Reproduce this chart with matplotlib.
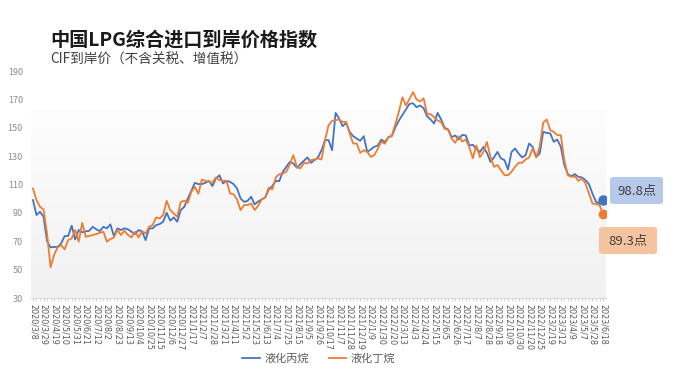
import numpy as np
import matplotlib
matplotlib.use("Agg")
import matplotlib.pyplot as plt
from matplotlib.patches import FancyBboxPatch
from matplotlib.colors import LinearSegmentedColormap

plt.rcParams['font.family'] = ['Noto Sans CJK SC', 'DejaVu Sans']

title = "中国LPG综合进口到岸价格指数"
subtitle = "CIF到岸价（不含关税、增值税）"
series_names = ["液化丙烷", "液化丁烷"]

tick_labels = [
    "2020/3/8", "2020/3/29", "2020/4/19", "2020/5/10", "2020/5/31", "2020/6/21",
    "2020/7/12", "2020/8/2", "2020/8/23", "2020/9/13", "2020/10/4", "2020/10/25",
    "2020/11/15", "2020/12/6", "2020/12/27", "2021/1/17", "2021/2/7", "2021/2/28",
    "2021/3/21", "2021/4/11", "2021/5/2", "2021/5/23", "2021/6/13", "2021/7/4",
    "2021/7/25", "2021/8/15", "2021/9/5", "2021/9/26", "2021/10/17", "2021/11/7",
    "2021/11/28", "2021/12/19", "2022/1/9", "2022/1/30", "2022/2/20", "2022/3/13",
    "2022/4/3", "2022/4/24", "2022/5/15", "2022/6/5", "2022/6/26", "2022/7/17",
    "2022/8/7", "2022/8/28", "2022/9/18", "2022/10/9", "2022/10/30", "2022/11/20",
    "2022/12/25", "2023/2/19", "2023/3/12", "2023/4/9", "2023/5/7", "2023/5/28",
    "2023/6/18",
]

propane = [
    99, 88.5, 90.8, 87.3, 70, 65.7, 66, 66, 68.5, 73.7,
    73.7, 80.9, 71.3, 78, 76.3, 77, 77.4, 80.2, 78.4, 77.2,
    80.2, 79.1, 81.9, 73.7, 79.1, 77.9, 79.1, 78.4, 76.7, 75,
    77.9, 77, 70.8, 79.1, 79.1, 81.4, 82.1, 83.8, 90.1, 84.5,
    86.8, 83.8, 92, 94.3, 100.2, 105.5, 111.2, 110.3, 110.3, 111.2,
    112.6, 108.9, 114.3, 116.5, 110.8, 112.6, 111.9, 110.3, 107.2, 100.2,
    97.8, 98.5, 101.4, 96, 98, 99.5, 100.9, 106.5, 108.9, 112.6,
    112.4, 119, 122.5, 126, 124.8, 121.8, 124.4, 126.7, 129.1, 125.3,
    127.2, 129.1, 134.2, 141.3, 141.3, 134.2, 160.5, 156.5, 151.1, 153.5,
    147, 144.1, 142.4, 140.8, 144.1, 133, 134.7, 136.6, 137.5, 141.7,
    139.9, 143.4, 144.1, 150.4, 155.1, 159.1, 162.9, 166.8, 167.3, 164.5,
    165.7, 163.8, 158.2, 155.8, 153, 160.5, 155.8, 150, 148.8, 143.4,
    144.6, 141.7, 145, 144.6, 137.5, 138, 135.2, 132.8, 136.5, 132.4,
    126, 129.1, 133, 128.4, 127.2, 120.6, 133, 135.4, 131.9, 129.1,
    130.7, 138.9, 136.6, 129.5, 131.9, 147.1, 146.4, 146, 140.1, 141.7,
    136.6, 123.7, 117.3, 115.9, 117.3, 115.4, 115, 113.1, 110.3, 103.6,
    97.8, 96.7, 98.8,
]

butane = [
    107.2, 99, 94.3, 92.4, 75.5, 51.6, 60.3, 65.7, 67.3, 64.3,
    70.8, 72, 77.9, 69.7, 83, 73.2, 73.7, 74.4, 75.1, 76,
    76.7, 69.7, 71.5, 72.7, 77.9, 74.4, 77.4, 74.4, 72.7, 76.7,
    72.7, 77, 75.5, 80.2, 81.4, 86.8, 86.1, 88.5, 98.5, 92,
    89.7, 87.3, 97.8, 98.5, 97.1, 104.9, 108.4, 103.5, 113.5, 112.6,
    111.9, 111.2, 115, 113.1, 112.6, 112.6, 103.7, 103.2, 99.5, 92,
    95.5, 95.5, 96.7, 92, 95, 99.5, 100.9, 107.9, 106.5, 115,
    117.3, 117.8, 119, 124.4, 130.7, 122.5, 121.3, 125.3, 124.8, 127.2,
    127.7, 128.4, 127.7, 141.3, 151.8, 154.9, 155.4, 155.8, 154.2, 154.2,
    146, 138.9, 138.9, 132.3, 134.2, 133, 129.5, 130.7, 135.2, 140.3,
    138.7, 143.4, 144.6, 152.8, 161.5, 171.5, 165.7, 170.4, 175.1, 170,
    168.5, 170.8, 159.8, 159.5, 157.5, 155.1, 154, 149.2, 148.6, 142.2,
    139.4, 144.1, 140.3, 141.7, 136.3, 128.5, 137.5, 129.3, 133, 140,
    129.5, 122.5, 123.7, 120, 116.6, 116.6, 119, 122.5, 125.3, 125.3,
    127.7, 129.1, 135.4, 129.1, 136.6, 153.5, 155.8, 148.3, 147.1, 144.8,
    144.8, 127.2, 116.6, 115.4, 115.9, 112.6, 114.3, 110.8, 103.6, 96.7,
    96.2, 95.5, 89.3,
]

n = len(propane)
x = np.arange(n)
label_step = 3

blue = "#4472c4"
orange = "#ed7d31"

fig = plt.figure(figsize=(6.92, 3.77), dpi=100)
ax = fig.add_axes([0.0451, 0.2095, 0.8309, 0.6021])
ax.set_xlim(-0.5, n - 1 + 0.9)
ax.set_ylim(30, 190)

# gradient background
cmap = LinearSegmentedColormap.from_list("bg", ["#f1f1f1", "#fdfdfd"])
grad = np.linspace(0, 1, 256).reshape(-1, 1)
ax.imshow(grad, extent=[-0.5, n - 1 + 0.9, 30, 162], origin="lower",
          aspect="auto", cmap=cmap, zorder=0)

ax.plot(x, propane, color=blue, lw=1.3, zorder=3, label=series_names[0])
ax.plot(x, butane, color=orange, lw=1.3, zorder=3, label=series_names[1])
ax.plot([x[-1]], [propane[-1]], 'o', color=blue, ms=6.5, zorder=4)
ax.plot([x[-1]], [butane[-1]], 'o', color=orange, ms=6, zorder=4)

ax.set_yticks(np.arange(30, 191, 20))
ax.tick_params(axis='y', length=0, labelsize=6.5, labelcolor="#8c8c8c", pad=6)

ax.set_xticks(x[::label_step])
ax.set_xticklabels(tick_labels, rotation=-90, fontsize=5.8, color="#595959",
                   family=['DejaVu Sans'])
ax.set_xticks(x, minor=True)
ax.tick_params(axis='x', which='both', length=2.5, color="#d0d0d0", pad=2)

for s in ["top", "right", "left"]:
    ax.spines[s].set_visible(False)
ax.spines["bottom"].set_color("#d9d9d9")

leg = ax.legend(loc="upper center", bbox_to_anchor=(0.5, -0.20), ncol=2,
                frameon=False, fontsize=8, handlelength=1.6, columnspacing=1.8,
                handletextpad=0.4)
for t in leg.get_texts():
    t.set_color("#595959")

fig.text(0.072, 0.894, title, fontsize=13.8, fontweight="bold", color="#1a1a1a",
         va="center", ha="left")
fig.text(0.072, 0.843, subtitle, fontsize=9.8, color="#404040",
         va="center", ha="left")

# value boxes
def box(x0, y0, w, h, fc, txt):
    p = FancyBboxPatch((x0, y0), w, h, boxstyle="round,pad=0,rounding_size=0.006",
                       transform=fig.transFigure, fc=fc, ec="none", zorder=5)
    fig.patches.append(p)
    fig.text(x0 + w / 2, y0 + h / 2, txt, fontsize=9.5, color="#404040",
             ha="center", va="center", zorder=6)

box(610 / 692, 1 - 204 / 377, 53 / 692, 27 / 377, "#b7c9e9", f"{propane[-1]}点")
box(599 / 692, 1 - 254 / 377, 58 / 692, 27 / 377, "#f6c3a0", f"{butane[-1]}点")

fig.savefig("out.png", dpi=100)
